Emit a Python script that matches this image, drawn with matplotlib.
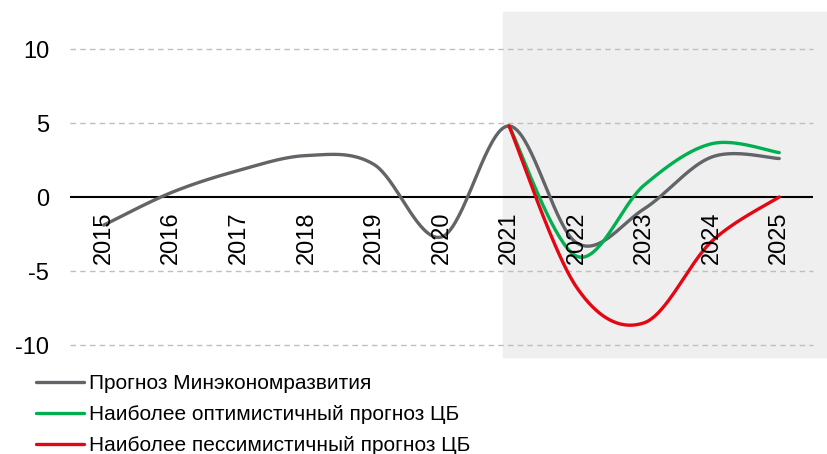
import numpy as np
import matplotlib.pyplot as plt
from matplotlib.patches import Rectangle

plt.rcParams['font.family'] = ['Liberation Sans', 'DejaVu Sans']

years = ['2015', '2016', '2017', '2018', '2019', '2020',
         '2021', '2022', '2023', '2024', '2025']
minek = [-1.9, 0.3, 1.8, 2.8, 2.2, -2.7, 4.8, -3.1, -0.8, 2.7, 2.6]
cb_opt = [4.8, -4.0, 0.8, 3.6, 3.0]      # 2021..2025
cb_pess = [4.8, -6.1, -8.5, -3.0, 0.0]   # 2021..2025

labels = ['Прогноз Минэкономразвития',
          'Наиболее оптимистичный прогноз ЦБ',
          'Наиболее пессимистичный прогноз ЦБ']
colors = ['#636468', '#00B050', '#E30613']


def smooth(xs, ys, n=40):
    # Excel-style smoothed line (Catmull-Rom / cubic Bezier)
    xs = np.asarray(xs, float)
    ys = np.asarray(ys, float)
    px = np.concatenate([[xs[0]], xs, [xs[-1]]])
    py = np.concatenate([[ys[0]], ys, [ys[-1]]])
    outx, outy = [], []
    t = np.linspace(0, 1, n)
    for i in range(1, len(px) - 2):
        p0 = np.array([px[i], py[i]])
        p3 = np.array([px[i + 1], py[i + 1]])
        c1 = p0 + (p3 - np.array([px[i - 1], py[i - 1]])) / 6
        c2 = p3 - (np.array([px[i + 2], py[i + 2]]) - p0) / 6
        b = ((1 - t) ** 3)[:, None] * p0 + (3 * (1 - t) ** 2 * t)[:, None] * c1 \
            + (3 * (1 - t) * t ** 2)[:, None] * c2 + (t ** 3)[:, None] * p3
        outx.extend(b[:, 0])
        outy.extend(b[:, 1])
    return outx, outy


fig = plt.figure(figsize=(8.28, 4.54), dpi=100)
ax = fig.add_axes([70 / 828, (454 - 345) / 454, 743 / 828, 296 / 454])
ax.patch.set_visible(False)
ax.set_zorder(2)

# forecast area
fig.patches.append(Rectangle((503 / 828, (454 - 357) / 454), 1 - 503 / 828, 345 / 454,
                             transform=fig.transFigure, color='#EFEFEF', zorder=0))

x = np.arange(len(years))
ax.set_xlim(-0.5, len(years) - 0.5)
ax.set_ylim(-10, 10)
for v in [-10, -5, 5, 10]:
    ax.axhline(v, color='#BFBFBF', lw=1, ls=(0, (4, 3)), zorder=1, clip_on=False)
ax.axhline(0, color='black', lw=1.5, zorder=2)

xs, ys = smooth(x, minek)
ax.plot(xs, ys, color=colors[0], lw=2.4, label=labels[0], zorder=3,
        solid_capstyle='round')
xs, ys = smooth(x[6:], cb_opt)
ax.plot(xs, ys, color=colors[1], lw=2.4, label=labels[1], zorder=4,
        solid_capstyle='round')
xs, ys = smooth(x[6:], cb_pess)
ax.plot(xs, ys, color=colors[2], lw=2.4, label=labels[2], zorder=5,
        solid_capstyle='round')

for i, yr in enumerate(years):
    ax.text(i, -1.0, yr, rotation=90, ha='center', va='top', fontsize=17, zorder=6)

ax.set_xticks([])
ax.set_yticks([-10, -5, 0, 5, 10])
ax.set_yticklabels(['-10', '-5', '0', '5', '10'], fontsize=17)
ax.tick_params(axis='y', length=0, pad=15)
for s in ax.spines.values():
    s.set_visible(False)

leg = fig.legend(loc='upper left', bbox_to_anchor=(36 / 828, 1 - 374 / 454),
                 frameon=False, fontsize=15, handlelength=2.3, handletextpad=0.25,
                 labelspacing=0.58, borderpad=0, borderaxespad=0)

fig.savefig('out.png', dpi=100)
